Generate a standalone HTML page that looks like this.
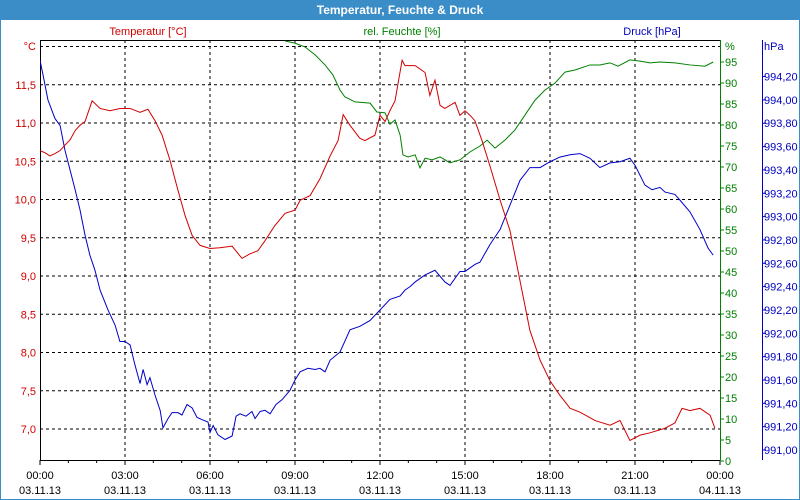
<!DOCTYPE html>
<html><head><meta charset="utf-8"><style>
body{margin:0;background:#fff;font-family:"Liberation Sans",sans-serif;}
#frame{position:absolute;left:0;top:0;width:798px;height:498px;border:1px solid #3b8dc8;background:#fff;}
#title{position:absolute;left:0;top:0;width:800px;height:20px;background:#3b8dc8;color:#fff;font-weight:bold;font-size:12px;text-align:center;line-height:20px;}
svg{position:absolute;left:0;top:0;}
</style></head><body>
<div id="frame"></div>
<div id="title">Temperatur, Feuchte &amp; Druck</div>
<svg id="c" width="800" height="500"></svg>
<script>
const xTickLabels=["00:00","03:00","06:00","09:00","12:00","15:00","18:00","21:00","00:00"];
const xDateLabels=["03.11.13","03.11.13","03.11.13","03.11.13","03.11.13","03.11.13","03.11.13","03.11.13","04.11.13"];
const tempTicks=[7.0,7.5,8.0,8.5,9.0,9.5,10.0,10.5,11.0,11.5];
const humTicks=[0,5,10,15,20,25,30,35,40,45,50,55,60,65,70,75,80,85,90,95];
const presTicks=[991.0,991.2,991.4,991.6,991.8,992.0,992.2,992.4,992.6,992.8,993.0,993.2,993.4,993.6,993.8,994.0,994.2];
const tempT=[0,.18,.35,.53,.71,.88,1.06,1.24,1.41,1.59,1.84,2.12,2.47,2.82,3.18,3.53,3.81,4.06,4.31,4.59,4.87,5.12,5.37,5.65,6,6.35,6.78,7.13,7.41,7.69,7.94,8.29,8.65,9,9.18,9.53,9.88,10.24,10.52,10.7,10.94,11.29,11.47,11.82,12,12.18,12.35,12.53,12.78,12.88,13.24,13.59,13.76,13.94,14.12,14.29,14.65,14.82,15,15.18,15.35,15.6,15.88,16.24,16.59,16.94,17.29,17.65,18,18.35,18.71,19.06,19.59,20.12,20.47,20.82,21.18,21.53,22.06,22.41,22.66,22.94,23.29,23.65,23.82];
const tempV=[10.64,10.61,10.57,10.6,10.64,10.71,10.78,10.9,10.97,11.02,11.29,11.19,11.16,11.19,11.19,11.14,11.18,11.03,10.84,10.51,10.12,9.79,9.53,9.4,9.36,9.37,9.39,9.23,9.29,9.33,9.46,9.66,9.82,9.86,9.99,10.05,10.27,10.57,10.77,11.11,10.97,10.8,10.77,10.84,11.1,11.02,11.16,11.29,11.82,11.75,11.75,11.66,11.36,11.56,11.23,11.19,11.27,11.1,11.16,11.1,11.03,10.77,10.44,9.99,9.59,8.94,8.29,7.9,7.63,7.44,7.27,7.22,7.11,7.05,7.11,6.85,6.92,6.95,7.01,7.08,7.27,7.24,7.27,7.18,7.01];
const humT=[8.65,9,9.35,9.71,10.06,10.34,10.59,10.76,11.12,11.65,11.89,12.18,12.35,12.53,12.71,12.81,12.99,13.24,13.41,13.59,13.84,14.12,14.47,14.82,15.18,15.53,15.78,16.06,16.41,16.76,17.12,17.47,17.82,18.18,18.53,18.88,19.41,19.76,20.12,20.4,20.82,21.18,21.53,21.88,22.41,22.94,23.47,23.76];
const humV=[100,99.5,98.6,96.7,94.3,91.9,88.3,86.7,85.5,85.2,83.1,82.9,80.2,81.2,77.6,72.9,72.4,72.9,69.8,72.1,71.7,72.4,71,71.7,73.6,75,76.4,74.5,76.4,78.8,82.4,85.9,88.3,90,92.6,93.1,94.3,94.3,94.8,94,95.5,95.2,94.8,95,94.8,94.3,94,95];
const presT=[0,.11,.28,.42,.53,.71,.88,1.06,1.24,1.41,1.59,1.76,1.94,2.12,2.4,2.65,2.82,3,3.18,3.35,3.53,3.64,3.78,3.88,4.06,4.24,4.34,4.52,4.66,4.87,5.01,5.19,5.37,5.54,5.72,5.93,6,6.11,6.28,6.53,6.78,6.92,7.06,7.27,7.48,7.59,7.77,7.94,8.12,8.33,8.54,8.82,9,9.18,9.46,9.71,9.88,10.06,10.24,10.59,10.94,11.29,11.65,12,12.35,12.71,12.88,13.06,13.24,13.59,13.94,14.29,14.47,14.82,15,15.35,15.53,15.88,16.24,16.59,16.94,17.29,17.65,18,18.35,18.71,19.06,19.41,19.76,20.12,20.47,20.82,21,21.35,21.6,21.88,22.06,22.41,22.59,22.94,23.29,23.58,23.76];
const presV=[994.34,994.21,994.0,993.91,993.84,993.78,993.57,993.4,993.23,993.06,992.84,992.67,992.54,992.37,992.2,992.07,991.93,991.93,991.9,991.73,991.57,991.69,991.56,991.62,991.47,991.34,991.19,991.27,991.32,991.32,991.3,991.39,991.36,991.28,991.26,991.24,991.15,991.21,991.13,991.09,991.12,991.29,991.31,991.29,991.33,991.27,991.33,991.34,991.31,991.39,991.43,991.51,991.6,991.67,991.7,991.69,991.7,991.67,991.77,991.84,992.03,992.06,992.11,992.2,992.29,992.32,992.37,992.4,992.44,992.5,992.54,992.44,992.41,992.53,992.53,992.59,992.61,992.76,992.89,993.1,993.31,993.42,993.42,993.47,993.51,993.53,993.54,993.5,993.42,993.46,993.47,993.5,993.44,993.27,993.23,993.25,993.21,993.19,993.14,993.04,992.89,992.73,992.67];
const L=40,R=720,T=40,B=460;
const X=h=>L+h*(R-L)/24;
const YT=v=>429-(v-7)*76.5;
const YH=v=>461-v*4.2;
const YP=v=>450-(v-991)*116.7;
const NS="http://www.w3.org/2000/svg";
const svg=document.getElementById('c');
function mk(t,a,p){const e=document.createElementNS(NS,t);for(const k in a)e.setAttribute(k,a[k]);(p||svg).appendChild(e);return e;}
function txt(s,x,y,fill,anchor,size){const e=mk('text',{x:x,y:y,fill:fill,'text-anchor':anchor||'middle','font-size':size||11,'font-family':'Liberation Sans, sans-serif'});e.textContent=s;return e;}
const clip=mk('clipPath',{id:'pc'});mk('rect',{x:L,y:T,width:R-L,height:B-T},clip);
// grid
const grid=mk('g',{});


for(let i=1;i<8;i++){const x=X(i*3);mk('line',{x1:x,y1:T,x2:x,y2:B,stroke:'#000','stroke-dasharray':'3,3'},grid);}
tempTicks.concat([12]).forEach(v=>{mk('line',{x1:L,y1:YT(v),x2:R,y2:YT(v),stroke:'#000','stroke-dasharray':'3,3'},grid);});
// axes
mk('line',{x1:L+.5,y1:T,x2:L+.5,y2:B,stroke:'#000'});
mk('line',{x1:L,y1:B+.5,x2:R,y2:B+.5,stroke:'#000'});
mk('line',{x1:L,y1:T+.5,x2:R,y2:T+.5,stroke:'#000'});
mk('line',{x1:R+.5,y1:T,x2:R+.5,y2:B,stroke:'#008000'});
mk('line',{x1:762.5,y1:T,x2:762.5,y2:B,stroke:'#0000c0'});
for(let h=0;h<=24;h++){mk('line',{x1:X(h),y1:B,x2:X(h),y2:B+(h%3?3:5),stroke:'#000'});}
xTickLabels.forEach((s,i)=>{const t=txt(s,X(i*3),479,'#000');
 const d=txt(xDateLabels[i],X(i*3),494,'#000');});
tempTicks.forEach(v=>{const t=txt(v.toFixed(1).replace('.',','),36,YT(v)+4,'#d00000','end');});
txt('°C',36,50,'#d00000','end');
humTicks.forEach(v=>{mk('line',{x1:R,y1:YH(v),x2:R+4,y2:YH(v),stroke:'#008000'});const t=txt(String(v),725,YH(v)+4,'#008000','start');});
txt('%',725,50,'#008000','start');
presTicks.forEach(v=>{mk('line',{x1:762,y1:YP(v),x2:766,y2:YP(v),stroke:'#0000c0'});const t=txt(v.toFixed(2).replace('.',','),764,YP(v)+4,'#0000c0','start');});
txt('hPa',764,50,'#0000c0','start');
const l1=txt('Temperatur [°C]',148,35,'#d00000');
const l2=txt('rel. Feuchte [%]',402,35,'#008000');
const l3=txt('Druck [hPa]',652,35,'#0000c0');
function line(ts,vs,Y,col,name){const p=mk('polyline',{points:ts.map((t,i)=>X(t)+','+Y(vs[i])).join(' '),fill:'none',stroke:col,'stroke-width':1,'clip-path':'url(#pc)'});
 
 }
line(humT,humV,YH,'#008000','humidity-line');
line(presT,presV,YP,'#0000c8','pressure-line');
line(tempT,tempV,YT,'#d00000','temperature-line');
</script>
</body></html>
